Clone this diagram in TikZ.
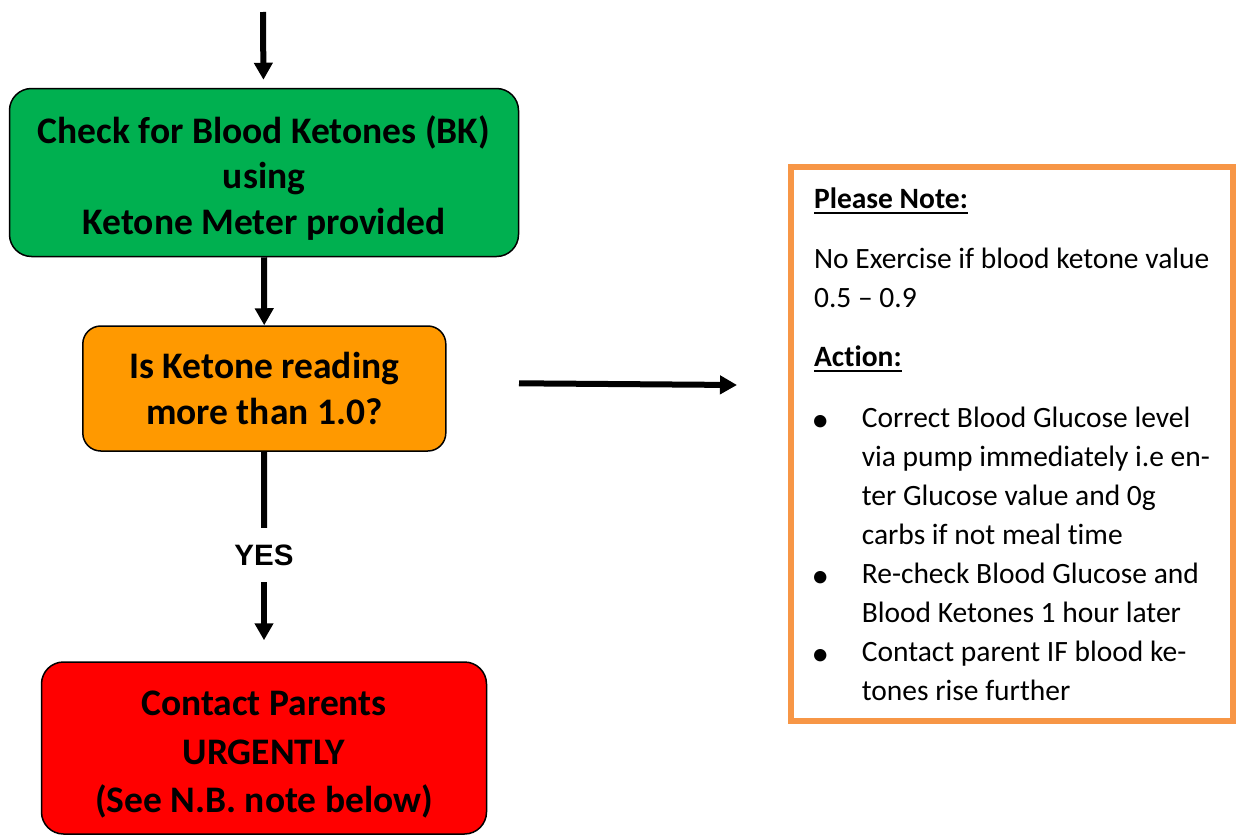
\documentclass[tikz,border=0pt]{standalone}
\usepackage{fontspec}
\setmainfont{Carlito}[Ligatures=CommonOff]
\newfontfamily\yesfont{Liberation Sans}
\usetikzlibrary{arrows.meta,positioning}

\definecolor{boxgreen}{RGB}{0,176,80}
\definecolor{boxorange}{RGB}{255,153,0}
\definecolor{boxred}{RGB}{255,0,0}
\definecolor{noteorange}{RGB}{247,150,70}

% underlined heading, bullet and hanging indent inside the note
\newcommand{\noteheading}[1]{\leavevmode\setbox0\hbox{\bfseries #1}\rlap{\rule[-5.5pt]{\wd0}{2pt}}\box0}
\newcommand{\notebullet}{\makebox[47.7pt][l]{\hspace*{-2.5pt}\raisebox{-4pt}{\fontsize{35}{39}\selectfont\textbullet}}}
\newcommand{\noteindent}{\hspace*{47.7pt}}
\newcommand{\boxstrut}{\rule{0pt}{38.5pt}}

\begin{document}
\begin{tikzpicture}[x=1pt,y=-1pt,
flowbox/.style={draw=black, line width=1.5pt, rounded corners=22pt, align=center, inner sep=0pt, font=\fontsize{37.5}{45.8}\selectfont\bfseries},
flowarrow/.style={line width=6pt, -{Triangle[width=18pt,length=17pt]}},
flowline/.style={line width=6pt},
notebox/.style={draw=noteorange, line width=6.5pt, align=left, minimum width=442pt, minimum height=554pt, inner sep=0pt, font=\fontsize{29.5}{39}\selectfont},
]
    \useasboundingbox (0,0) rectangle (1239,835);

    \node[flowbox, fill=boxgreen, minimum width=509pt, minimum height=168pt](check) at (264,172.5) {\boxstrut Check for Blood Ketones (BK)\\using\\Ketone Meter provided};
    \node[flowbox, fill=boxorange, minimum width=363pt, minimum height=125pt, rounded corners=18pt](ask) at (264.3,388.5) {Is Ketone reading\\more than 1.0?};
    \node[font=\fontsize{29.5}{35}\selectfont\yesfont\bfseries, inner xsep=0pt, inner ysep=16.5pt](yes) at (264,555) {YES};
    \node[flowbox, fill=boxred, minimum width=445pt, minimum height=172pt, font=\fontsize{37.5}{48.5}\selectfont\bfseries](urgent) at (264,748) {\boxstrut Contact Parents\\URGENTLY\\(See N.B. note below)};

    \node[notebox](note) at (1012,444) {%
        \noteheading{Please Note:}\\[21pt]
        No Exercise if blood ketone value\\
        0.5 – 0.9\\[20pt]
        \noteheading{Action:}\\[22pt]
        \notebullet Correct Blood Glucose level\\
        \noteindent via pump immediately i.e en-\\
        \noteindent ter Glucose value and 0g\\
        \noteindent carbs if not meal time\\
        \notebullet Re-check Blood Glucose and\\
        \noteindent Blood Ketones 1 hour later\\
        \notebullet Contact parent IF blood ke-\\
        \noteindent tones rise further};

    \coordinate (entry) at (263,12);
    \coordinate (sidefrom) at (519,383.3);
    \coordinate (sideto) at (737,385);

    \draw[flowarrow, shorten >=8pt] (entry) -- (check);
    \draw[flowarrow] (check) -- (ask);
    \draw[flowline] (ask) -- (yes);
    \draw[flowarrow, shorten >=21pt] (yes) -- (urgent);
    \draw[flowarrow] (sidefrom) -- (sideto);
\end{tikzpicture}
\end{document}
